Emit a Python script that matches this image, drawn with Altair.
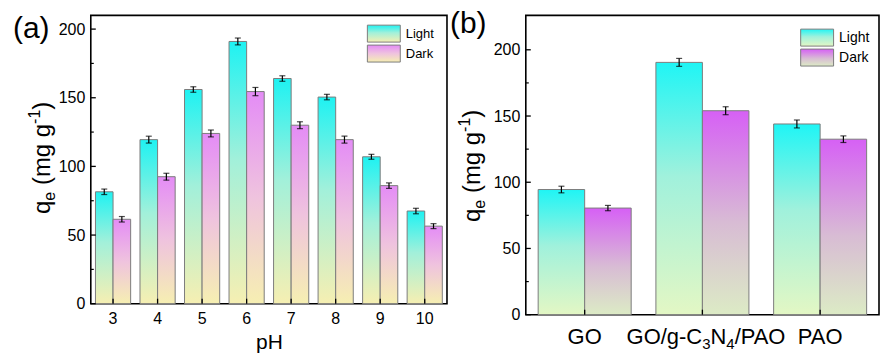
import json
import altair as alt
import pandas as pd

# ---------------- data ----------------
series = ["Light", "Dark"]

ph = [3, 4, 5, 6, 7, 8, 9, 10]
light_a = [81.5, 119.5, 156, 191, 164, 150.5, 107, 67.5]
dark_a = [61.5, 92.5, 124, 154.5, 130, 119.5, 86, 56.5]
err_light_a = [2, 2.5, 2, 2.5, 2, 2, 1.8, 2]
err_dark_a = [2, 2.5, 2.5, 3, 2.5, 2.5, 2, 1.8]

materials = ["GO", "GO/g-C3N4/PAO", "PAO"]
light_b = [94.5, 190.5, 144]
dark_b = [80.5, 154, 132.5]
err_light_b = [2.5, 3, 3]
err_dark_b = [2, 3, 2.5]

ticks_major = [0, 50, 100, 150, 200]
ticks_minor = [25, 75, 125, 175]

FONT = "Liberation Sans"


def grad(stops):
    return {"gradient": "linear", "x1": 0, "x2": 0, "y1": 0, "y2": 1,
            "stops": [{"offset": o, "color": c} for o, c in stops]}


g_light_a = grad([(0, "#1ef2f2"), (0.45, "#a2f0da"), (1, "#f6efb2")])
g_dark_a = grad([(0, "#e48cf6"), (0.5, "#efc3de"), (1, "#f6efb2")])
g_light_b = grad([(0, "#1ff5f5"), (0.45, "#a0f1dc"), (1, "#e3f7c4")])
g_dark_b = grad([(0, "#d660f5"), (0.55, "#d8bcd4"), (1, "#dcebc5")])


def make_df(cat_name, cats, light, dark, el, ed):
    rows = []
    for c, l, d, e1, e2 in zip(cats, light, dark, el, ed):
        rows.append({cat_name: c, "series": "Light", "value": l, "lo": l - e1, "hi": l + e1})
        rows.append({cat_name: c, "series": "Dark", "value": d, "lo": d - e2, "hi": d + e2})
    return pd.DataFrame(rows)


def text_piece(txt, x, y, size, dx=0, dy=0, angle=0, align="left"):
    kw = dict(fontSize=size, font=FONT, color="black", align=align,
              baseline="alphabetic", dx=dx, dy=dy)
    if angle:
        kw["angle"] = angle
    return alt.Chart(pd.DataFrame({"t": [txt]})).mark_text(**kw).encode(
        text="t:N", x=alt.value(x), y=alt.value(y))


def ytitle(x, y):
    main, small = 24, 16
    parts = [("q", main, 0, 0), ("e", small, 13.3, 5), ("(mg g", main, 28.9, 0),
             ("-1", small, 90.2, -10), (")", main, 104.4, 0)]
    return [text_piece(t, x, y, s, dx=dx, dy=dy, angle=270) for t, s, dx, dy in parts]


def panel(df, cat_name, cats, W, H, ymax, g_l, g_d, legend_x, legend_y, x_axis, legend_font):
    base = alt.Chart(df)
    xsc = alt.Scale(domain=cats, paddingInner=0.21, paddingOuter=0.105)
    ysc = alt.Scale(domain=[0, ymax], nice=False)
    off = alt.XOffset("series:N", scale=alt.Scale(domain=series))
    yaxis = alt.Axis(values=ticks_major, ticks=False, tickSize=0, domain=False, grid=False,
                     title=None, labelFontSize=16, labelFont=FONT, labelColor="black",
                     labelPadding=6)
    X = alt.X(f"{cat_name}:O", scale=xsc, axis=x_axis, sort=cats)

    def Y(f):
        return alt.Y(f, scale=ysc, axis=yaxis)

    fill_expr = "datum.value === 'Dark' ? %s : %s" % (json.dumps(g_d), json.dumps(g_l))
    legend_layer = base.mark_bar(opacity=0).encode(
        x=X, xOffset=off, y=Y("value:Q"),
        fill=alt.Fill("series:N", legend=None),
        stroke=alt.Stroke(
            "series:N",
            scale=alt.Scale(domain=series, range=["#7c7c7c", "#7c7c7c"]),
            legend=alt.Legend(
                title=None, orient="none", legendX=legend_x, legendY=legend_y,
                symbolType="M-1,-1H2.88V1H-1Z", symbolSize=289, symbolStrokeWidth=1,
                symbolFillColor={"expr": fill_expr}, symbolOpacity=1,
                labelFontSize=legend_font, labelFont=FONT, labelColor="black",
                labelOffset=21, rowPadding=-4, padding=0,
            ),
        ),
    )
    layers = [legend_layer]
    for s, g in (("Light", g_l), ("Dark", g_d)):
        layers.append(
            base.transform_filter(alt.datum.series == s)
            .mark_bar(fill=g, stroke="#7c7c7c", strokeWidth=1)
            .encode(x=X, xOffset=off, y=Y("value:Q"))
        )
    layers.append(base.mark_rule(color="black", strokeWidth=1.2).encode(
        x=X, xOffset=off, y=Y("lo:Q"), y2="hi:Q"))
    for f in ("lo:Q", "hi:Q"):
        layers.append(base.mark_tick(color="black", thickness=1.2, size=6, orient="horizontal").encode(
            x=X, xOffset=off, y=Y(f)))
    layers.append(alt.Chart(pd.DataFrame({"v": ticks_major})).mark_rule(color="black", strokeWidth=1.3).encode(
        y=Y("v:Q"), x=alt.value(0), x2=alt.value(5)))
    layers.append(alt.Chart(pd.DataFrame({"v": ticks_minor})).mark_rule(color="black", strokeWidth=1.2).encode(
        y=Y("v:Q"), x=alt.value(0), x2=alt.value(3)))
    layers.append(alt.Chart(pd.DataFrame({cat_name: cats})).mark_rule(color="black", strokeWidth=1.3).encode(
        x=X, y=alt.value(H), y2=alt.value(H - 5)))
    return layers, X


# ---------------- panel (a) ----------------
WA, HA = 357, 289
df_a = make_df("ph", ph, light_a, dark_a, err_light_a, err_dark_a)
xaxis_a = alt.Axis(ticks=False, tickSize=0, domain=False, labelAngle=0, labelFontSize=16,
                   labelFont=FONT, labelColor="black", labelPadding=7, title="pH",
                   titleFontSize=21, titleFont=FONT, titleColor="black", titleFontWeight="normal",
                   titlePadding=5)
layers_a, _ = panel(df_a, "ph", ph, WA, HA, 210, g_light_a, g_dark_a, 276.7, 9.3, xaxis_a, 13)
layers_a += ytitle(-41, 199)
layers_a.append(text_piece("(a)", -78, 23, 30))
chart_a = alt.layer(*layers_a).properties(width=WA, height=HA)

# ---------------- panel (b) ----------------
WB, HB = 354, 300
df_b = make_df("material", materials, light_b, dark_b, err_light_b, err_dark_b)
xaxis_b = alt.Axis(ticks=False, tickSize=0, domain=False, labelAngle=0, labelFontSize=22,
                   labelFont=FONT, labelColor="black", labelPadding=29,
                   labelBaseline="alphabetic", title=None,
                   labelExpr="datum.label == 'GO/g-C3N4/PAO' ? '' : datum.label")
layers_b, XB = panel(df_b, "material", materials, WB, HB, 226, g_light_b, g_dark_b, 275, 13.3, xaxis_b, 14)
layers_b += ytitle(-46, 207)
layers_b.append(text_piece("(b)", -76, 18, 30))

comp = "GO/g-C3N4/PAO"
comp_parts = [("GO/g-C", 22, -76, 0), ("3", 15, -0.2, 5), ("N", 22, 8.1, 0),
              ("4", 15, 24, 5), ("/PAO", 22, 32.3, 0)]
for t, s, dx, dy in comp_parts:
    layers_b.append(
        alt.Chart(pd.DataFrame({"material": [comp], "t": [t]}))
        .mark_text(fontSize=s, font=FONT, color="black", align="left", baseline="alphabetic",
                   dx=dx, dy=dy)
        .encode(x=XB, y=alt.value(HB + 29), text="t:N")
    )
chart_b = alt.layer(*layers_b).properties(width=WB, height=HB)

chart = (
    alt.hconcat(chart_a, chart_b, spacing=1)
    .resolve_scale(stroke="independent", fill="independent", xOffset="independent")
    .resolve_legend(stroke="independent", fill="independent")
    .properties(padding={"left": 12, "top": 8, "right": 0, "bottom": 0}, background="white")
    .configure_view(stroke="black", strokeWidth=1.6)
)

chart.save("out.html", embed_options={"renderer": "svg", "actions": False})
